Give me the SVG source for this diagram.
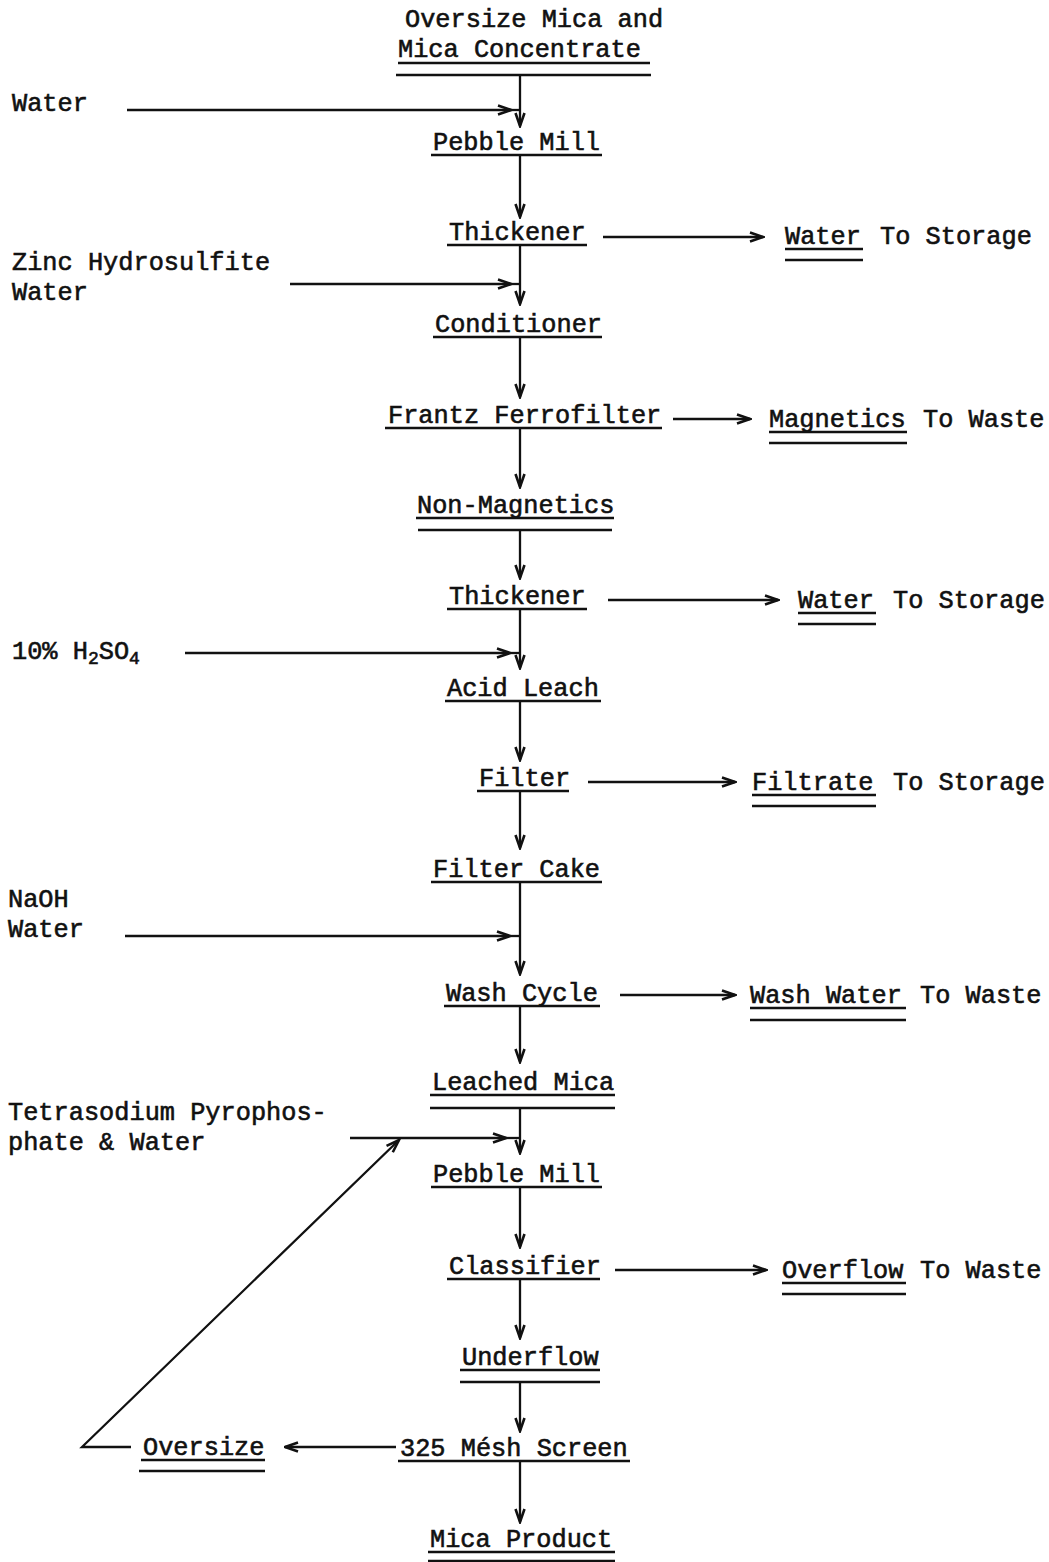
<svg xmlns="http://www.w3.org/2000/svg" width="1049" height="1562" viewBox="0 0 1049 1562">
<style>
.t{font-family:"Liberation Mono","DejaVu Sans Mono",monospace;font-size:25.3px;fill:#111;stroke:#111;stroke-width:0.6}
.u{stroke:#111;stroke-width:2.4;fill:none}
.c{stroke:#111;stroke-width:2.3;fill:none}
</style>
<defs>
<marker id="ah" viewBox="0 0 16 12" refX="14.5" refY="6" markerWidth="16" markerHeight="12" orient="auto" markerUnits="userSpaceOnUse">
<path d="M1.5,1.5 L14.5,6 L1.5,10.5" fill="none" stroke="#111" stroke-width="2.6"/>
</marker>
</defs>
<rect width="1049" height="1562" fill="#fff"/>

<g id="n-feed"><text class="t" x="405" y="27">Oversize Mica and</text><text class="t" x="398" y="57">Mica Concentrate</text><line class="u" x1="398" y1="63" x2="650" y2="63"/><line class="u" x1="396" y1="75" x2="651" y2="75"/></g>
<g id="n-water1"><text class="t" x="12" y="111">Water</text></g>
<g id="n-pebble1"><text class="t" x="433" y="150">Pebble Mill</text><line class="u" x1="431" y1="155" x2="602" y2="155"/></g>
<g id="n-thick1"><text class="t" x="449" y="240">Thickener</text><line class="u" x1="447" y1="245" x2="587" y2="245"/></g>
<g id="n-water-st1"><text class="t" x="785" y="244">Water</text><line class="u" x1="785" y1="249" x2="863" y2="249"/><line class="u" x1="785" y1="260" x2="863" y2="260"/><text class="t" x="880" y="244">To Storage</text></g>
<g id="n-zinc"><text class="t" x="12" y="270">Zinc Hydrosulfite</text><text class="t" x="12" y="300">Water</text></g>
<g id="n-cond"><text class="t" x="435" y="332">Conditioner</text><line class="u" x1="433" y1="337" x2="602" y2="337"/></g>
<g id="n-frantz"><text class="t" x="388" y="423">Frantz Ferrofilter</text><line class="u" x1="385" y1="428" x2="662" y2="428"/></g>
<g id="n-mag"><text class="t" x="769" y="427">Magnetics</text><line class="u" x1="769" y1="432" x2="907" y2="432"/><line class="u" x1="769" y1="443" x2="907" y2="443"/><text class="t" x="923" y="427">To Waste</text></g>
<g id="n-nonmag"><text class="t" x="417" y="513">Non-Magnetics</text><line class="u" x1="416" y1="518" x2="614" y2="518"/><line class="u" x1="418" y1="530" x2="612" y2="530"/></g>
<g id="n-thick2"><text class="t" x="449" y="604">Thickener</text><line class="u" x1="447" y1="609" x2="587" y2="609"/></g>
<g id="n-water-st2"><text class="t" x="798" y="608">Water</text><line class="u" x1="798" y1="613" x2="876" y2="613"/><line class="u" x1="798" y1="624" x2="876" y2="624"/><text class="t" x="893" y="608">To Storage</text></g>
<g id="n-acid"><text class="t" x="12" y="659">10% H<tspan font-size="18" dy="5">2</tspan><tspan dy="-5">SO</tspan><tspan font-size="18" dy="5">4</tspan></text></g>
<g id="n-leach"><text class="t" x="447" y="696">Acid Leach</text><line class="u" x1="445" y1="701" x2="601" y2="701"/></g>
<g id="n-filter"><text class="t" x="479" y="786">Filter</text><line class="u" x1="477" y1="791" x2="569" y2="791"/></g>
<g id="n-filtrate"><text class="t" x="752" y="790">Filtrate</text><line class="u" x1="752" y1="795" x2="876" y2="795"/><line class="u" x1="752" y1="806" x2="876" y2="806"/><text class="t" x="893" y="790">To Storage</text></g>
<g id="n-cake"><text class="t" x="433" y="877">Filter Cake</text><line class="u" x1="431" y1="882" x2="602" y2="882"/></g>
<g id="n-naoh"><text class="t" x="8" y="907">NaOH</text><text class="t" x="8" y="937">Water</text></g>
<g id="n-wash"><text class="t" x="446" y="1001">Wash Cycle</text><line class="u" x1="444" y1="1006" x2="600" y2="1006"/></g>
<g id="n-washwater"><text class="t" x="750" y="1003">Wash Water</text><line class="u" x1="750" y1="1008" x2="906" y2="1008"/><line class="u" x1="750" y1="1020" x2="906" y2="1020"/><text class="t" x="920" y="1003">To Waste</text></g>
<g id="n-leached"><text class="t" x="432" y="1090">Leached Mica</text><line class="u" x1="430" y1="1095" x2="615" y2="1095"/><line class="u" x1="430" y1="1108" x2="615" y2="1108"/></g>
<g id="n-tspp"><text class="t" x="8" y="1120">Tetrasodium Pyrophos-</text><text class="t" x="8" y="1150">phate &amp; Water</text></g>
<g id="n-pebble2"><text class="t" x="433" y="1182">Pebble Mill</text><line class="u" x1="431" y1="1187" x2="602" y2="1187"/></g>
<g id="n-class"><text class="t" x="449" y="1274">Classifier</text><line class="u" x1="447" y1="1279" x2="600" y2="1279"/></g>
<g id="n-overflow"><text class="t" x="782" y="1278">Overflow</text><line class="u" x1="782" y1="1283" x2="906" y2="1283"/><line class="u" x1="782" y1="1294" x2="906" y2="1294"/><text class="t" x="920" y="1278">To Waste</text></g>
<g id="n-under"><text class="t" x="462" y="1365">Underflow</text><line class="u" x1="460" y1="1370" x2="600" y2="1370"/><line class="u" x1="460" y1="1382" x2="600" y2="1382"/></g>
<g id="n-screen"><text class="t" x="400" y="1456">325 Mésh Screen</text><line class="u" x1="398" y1="1461" x2="630" y2="1461"/></g>
<g id="n-oversize"><text class="t" x="143" y="1455">Oversize</text><line class="u" x1="141" y1="1460" x2="265" y2="1460"/><line class="u" x1="139" y1="1471" x2="265" y2="1471"/></g>
<g id="n-product"><text class="t" x="430" y="1547">Mica Product</text><line class="u" x1="428" y1="1552" x2="615" y2="1552"/><line class="u" x1="428" y1="1561" x2="615" y2="1561"/></g>

<g id="connectors">
<line class="c" x1="520" y1="75" x2="520" y2="126" marker-end="url(#ah)"/>
<line class="c" x1="127" y1="110" x2="511" y2="110" marker-end="url(#ah)"/><line class="c" x1="511" y1="110" x2="520" y2="110"/>
<line class="c" x1="520" y1="155" x2="520" y2="217" marker-end="url(#ah)"/>
<line class="c" x1="603" y1="237" x2="763" y2="237" marker-end="url(#ah)"/>
<line class="c" x1="520" y1="245" x2="520" y2="304" marker-end="url(#ah)"/>
<line class="c" x1="290" y1="284" x2="511" y2="284" marker-end="url(#ah)"/><line class="c" x1="511" y1="284" x2="520" y2="284"/>
<line class="c" x1="520" y1="337" x2="520" y2="397" marker-end="url(#ah)"/>
<line class="c" x1="673" y1="419" x2="750" y2="419" marker-end="url(#ah)"/>
<line class="c" x1="520" y1="428" x2="520" y2="487" marker-end="url(#ah)"/>
<line class="c" x1="520" y1="530" x2="520" y2="578" marker-end="url(#ah)"/>
<line class="c" x1="608" y1="600" x2="778" y2="600" marker-end="url(#ah)"/>
<line class="c" x1="520" y1="609" x2="520" y2="668" marker-end="url(#ah)"/>
<line class="c" x1="185" y1="653" x2="510" y2="653" marker-end="url(#ah)"/><line class="c" x1="510" y1="653" x2="520" y2="653"/>
<line class="c" x1="520" y1="701" x2="520" y2="760" marker-end="url(#ah)"/>
<line class="c" x1="588" y1="782" x2="735" y2="782" marker-end="url(#ah)"/>
<line class="c" x1="520" y1="791" x2="520" y2="848" marker-end="url(#ah)"/>
<line class="c" x1="520" y1="882" x2="520" y2="974" marker-end="url(#ah)"/>
<line class="c" x1="125" y1="936" x2="510" y2="936" marker-end="url(#ah)"/><line class="c" x1="510" y1="936" x2="520" y2="936"/>
<line class="c" x1="620" y1="995" x2="735" y2="995" marker-end="url(#ah)"/>
<line class="c" x1="520" y1="1006" x2="520" y2="1062" marker-end="url(#ah)"/>
<line class="c" x1="520" y1="1108" x2="520" y2="1153" marker-end="url(#ah)"/>
<line class="c" x1="350" y1="1138" x2="506" y2="1138" marker-end="url(#ah)"/><line class="c" x1="506" y1="1138" x2="520" y2="1138"/>
<path class="c" d="M131,1447 L82,1447 L399,1140" marker-end="url(#ah)"/>
<line class="c" x1="520" y1="1187" x2="520" y2="1247" marker-end="url(#ah)"/>
<line class="c" x1="615" y1="1270" x2="766" y2="1270" marker-end="url(#ah)"/>
<line class="c" x1="520" y1="1279" x2="520" y2="1338" marker-end="url(#ah)"/>
<line class="c" x1="520" y1="1382" x2="520" y2="1431" marker-end="url(#ah)"/>
<line class="c" x1="396" y1="1447" x2="285" y2="1447" marker-end="url(#ah)"/>
<line class="c" x1="520" y1="1461" x2="520" y2="1522" marker-end="url(#ah)"/>
</g>
</svg>
